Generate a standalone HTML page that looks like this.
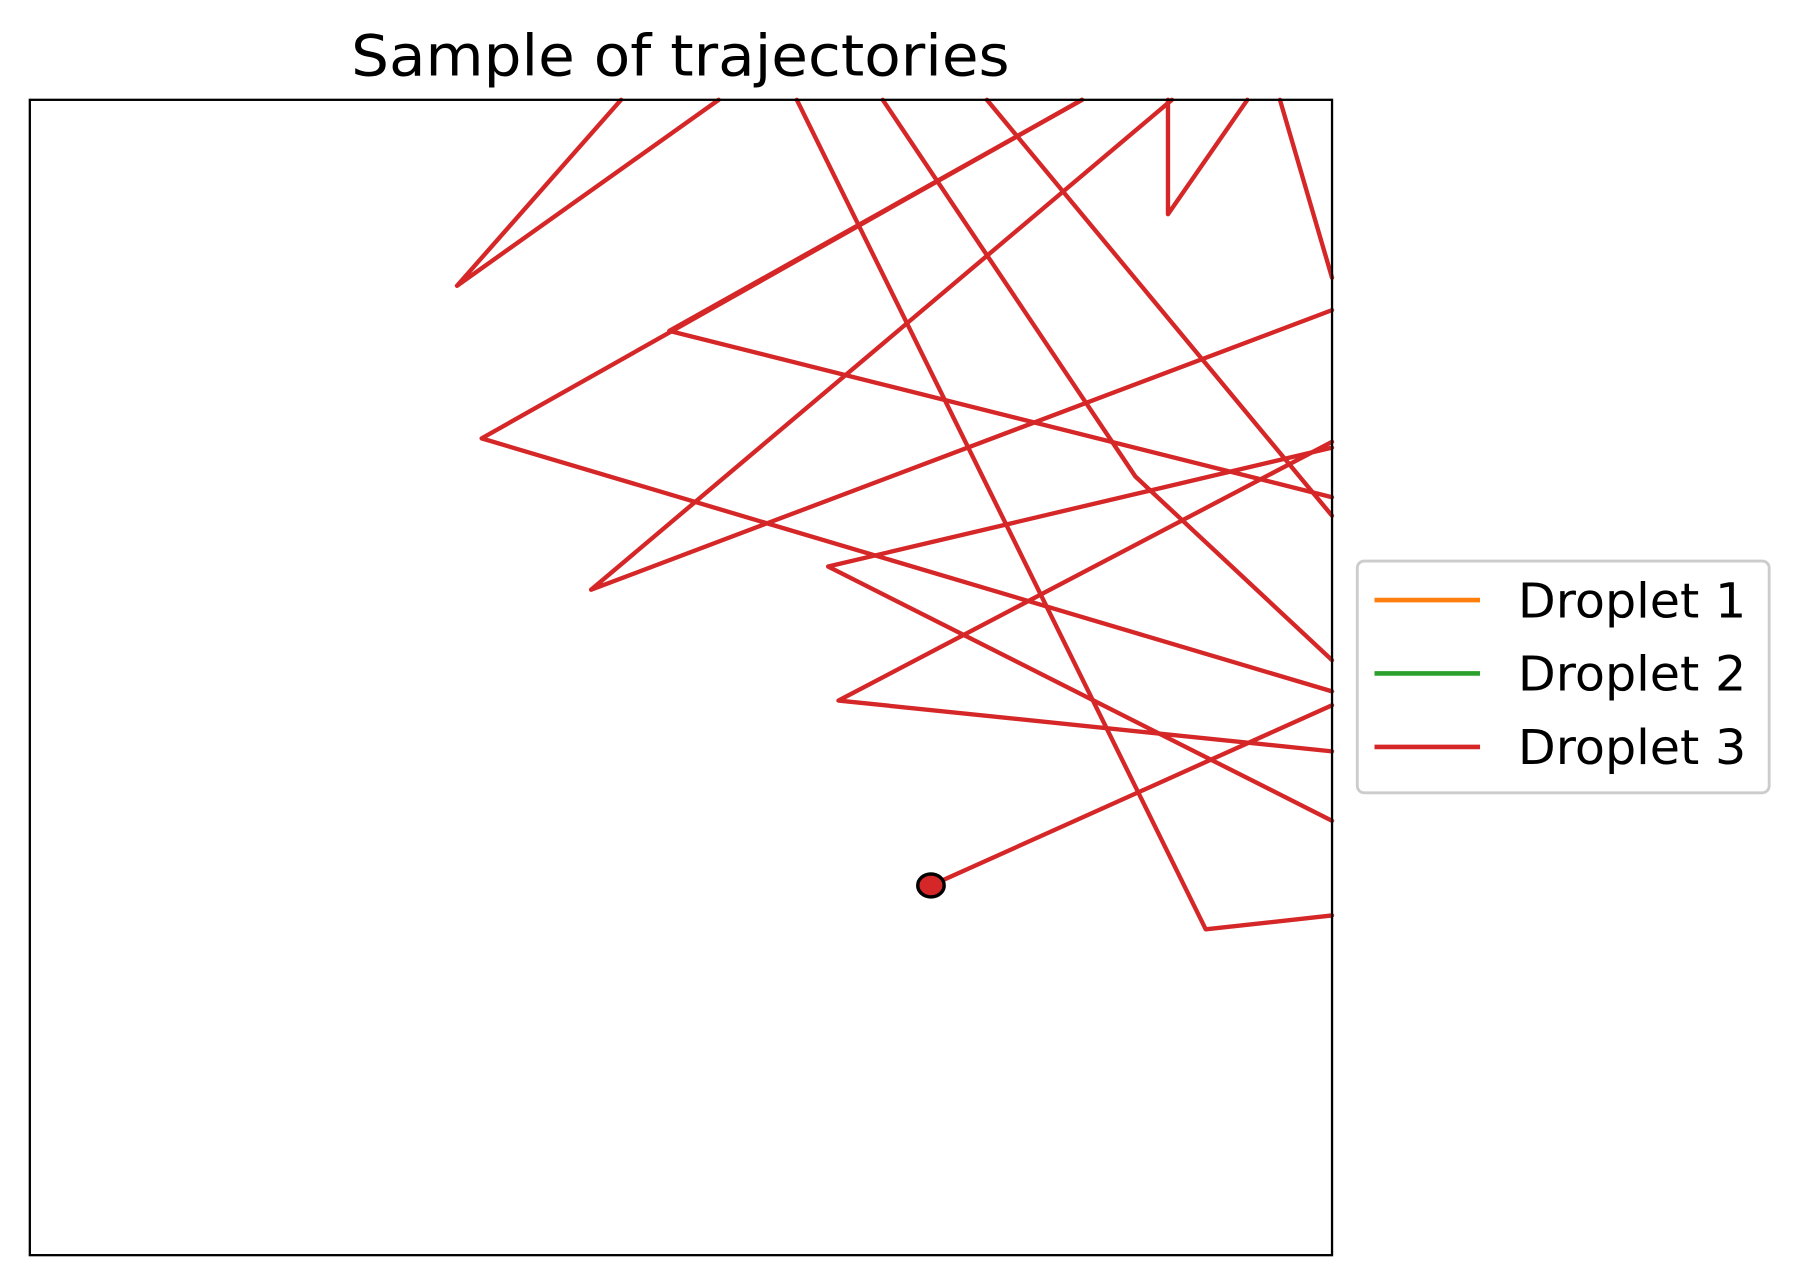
<!DOCTYPE html>
<html><head><meta charset="utf-8"><style>
html,body{margin:0;padding:0;background:#fff;}
svg{display:block;}
text{font-family:"DejaVu Sans","Liberation Sans",sans-serif;}
</style></head><body>
<svg id="chart" width="1799" height="1285" viewBox="0 0 1568 1120" xmlns="http://www.w3.org/2000/svg">
<text x="593" y="66" font-size="50" text-anchor="middle" fill="#000" textLength="574" lengthAdjust="spacingAndGlyphs">Sample of trajectories</text>
<g id="plot"></g>
<rect x="26" y="87" width="1135" height="1007" fill="none" stroke="#000" stroke-width="2"/>
<g>
<rect x="1183" y="489" width="359" height="202" rx="6" fill="#fff" stroke="#ccc" stroke-width="2.5"/>
<g>
<line x1="1198" y1="523" x2="1290" y2="523" stroke="#ff7f0e" stroke-width="4"/>
<text x="1323" y="538" font-size="42" textLength="199" lengthAdjust="spacingAndGlyphs">Droplet 1</text></g>
<g>
<line x1="1198" y1="587" x2="1290" y2="587" stroke="#2ca02c" stroke-width="4"/>
<text x="1323" y="602" font-size="42" textLength="199" lengthAdjust="spacingAndGlyphs">Droplet 2</text></g>
<g>
<line x1="1198" y1="651" x2="1290" y2="651" stroke="#d62728" stroke-width="4"/>
<text x="1323" y="666" font-size="42" textLength="199" lengthAdjust="spacingAndGlyphs">Droplet 3</text></g>
</g>
</svg>
<script>
// Droplet 3 trajectory (data units 0..100), strokeIds group continuous segments
const strokeIds = [1,1, 2,2,2, 3,3,3, 4,4,4, 5,5,5, 6,6,6, 7,7,7, 8,8,8, 9,9, 10,10,10, 11,11, 12,12,12];
const xValues = [69.2,100, 100,62.1,100, 100,61.3,100, 100,90.3,58.9, 100,34.7,80.8, 100,49.1,80.8, 100,43.1,87.7, 87.4,87.4,93.5, 96.0,100, 65.5,84.9,100, 73.5,100, 52.9,32.8,45.4];
const yValues = [32.0,47.6, 43.6,48.0,70.4, 69.9,59.6,37.6, 29.4,28.2,100, 48.8,70.7,100, 65.6,80.0,100, 81.8,57.6,100, 100,90.1,100, 100,84.6, 100,67.4,51.5, 100,64.0, 100,83.9,100];
const finalPoint = [69.2, 32.0];

const X0=26, X1=1161, Y0=1094, Y1=87;
function sx(v){return X0+(v/100)*(X1-X0);}
function sy(v){return Y0-(v/100)*(Y0-Y1);}
const NS='http://www.w3.org/2000/svg';
const plot=document.getElementById('plot');
const groups={};
strokeIds.forEach((id,i)=>{(groups[id]=groups[id]||[]).push(sx(xValues[i]).toFixed(1)+','+sy(yValues[i]).toFixed(1));});
Object.keys(groups).forEach(id=>{
  const pl=document.createElementNS(NS,'polyline');
  pl.setAttribute('points',groups[id].join(' '));
  pl.setAttribute('fill','none');
  pl.setAttribute('stroke','#d62728');
  pl.setAttribute('stroke-width','3.8');
  pl.setAttribute('stroke-linejoin','round');
  pl.setAttribute('stroke-linecap','round');
  
  
  plot.appendChild(pl);
});
const dot=document.createElementNS(NS,'ellipse');
dot.setAttribute('cx',sx(finalPoint[0]));
dot.setAttribute('cy',sy(finalPoint[1]));
dot.setAttribute('rx','11.5');
dot.setAttribute('ry','10');
dot.setAttribute('fill','#d62728');
dot.setAttribute('stroke','#000');
dot.setAttribute('stroke-width','3');


plot.appendChild(dot);
</script>
</body></html>
